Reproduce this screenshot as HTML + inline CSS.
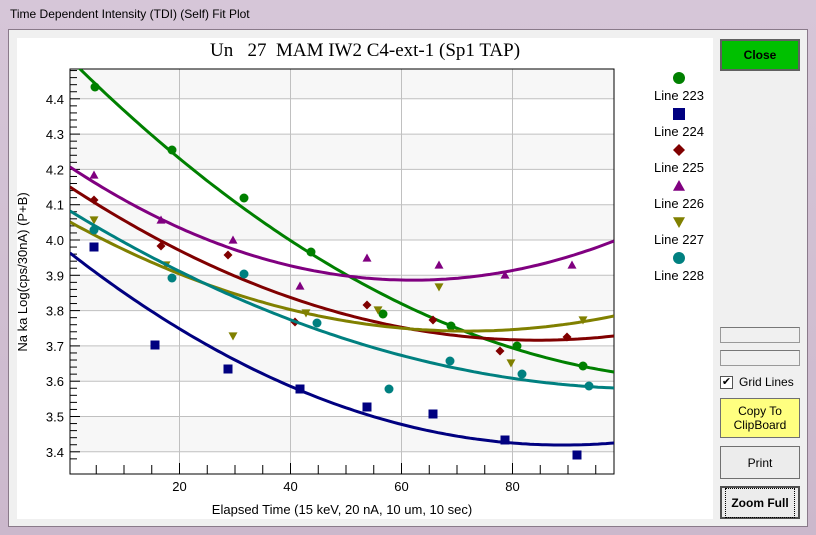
<!DOCTYPE html>
<html><head><meta charset="utf-8"><style>
body{margin:0;width:816px;height:535px;overflow:hidden;background:#d8c8d8;font-family:"Liberation Sans",sans-serif;}
.abs{position:absolute;}
.btn{position:absolute;left:720px;width:80px;box-sizing:border-box;border:1px solid #707070;background:#ececec;font-size:12px;text-align:center;display:flex;align-items:center;justify-content:center;line-height:14px;}
</style></head><body>
<div class="abs" style="left:0;top:0;width:816px;height:535px;background:linear-gradient(#d6c6d8,#cbb8cc);"></div>
<div class="abs" style="left:10px;top:7px;font-size:12px;color:#000;">Time Dependent Intensity (TDI) (Self) Fit Plot</div>
<div class="abs" style="left:8px;top:29px;width:800px;height:498px;background:#f0f0f0;border:1px solid #8a7a8a;box-sizing:border-box;"></div>
<div class="abs" style="left:17px;top:38px;width:696px;height:481px;background:#fff;"></div>
<div class="btn" style="top:39px;height:32px;background:#00c000;border:2px solid #606060;font-weight:bold;">Close</div>
<div class="abs" style="left:720px;top:327px;width:80px;height:16px;border:1px solid #999;box-sizing:border-box;border-top-color:#777;"></div>
<div class="abs" style="left:720px;top:350px;width:80px;height:16px;border:1px solid #999;box-sizing:border-box;border-top-color:#777;"></div>
<div class="abs" style="left:720px;top:376px;width:11px;height:11px;border:1px solid #555;background:#fff;font-size:11px;line-height:11px;text-align:center;">✔</div>
<div class="abs" style="left:739px;top:375px;font-size:12px;">Grid Lines</div>
<div class="btn" style="top:398px;height:40px;background:#ffff80;">Copy To<br>ClipBoard</div>
<div class="btn" style="top:446px;height:33px;">Print</div>
<div class="btn" style="top:486px;height:33px;border:2px solid #505050;font-weight:bold;"><span style="border:1px dotted #000;padding:7px 5px;">Zoom Full</span></div>
<svg class="abs" style="left:0;top:0" width="816" height="535" id="s">
<text x="365" y="56" font-family="Liberation Serif" font-size="19" text-anchor="middle" white-space="pre" style="white-space:pre">Un   27  MAM IW2 C4-ext-1 (Sp1 TAP)</text>
<text x="342" y="514" font-size="13" text-anchor="middle">Elapsed Time (15 keV, 20 nA, 10 um, 10 sec)</text>
<text transform="translate(27,272) rotate(-90)" font-size="13" text-anchor="middle">Na ka Log(cps/30nA) (P+B)</text>
</svg>
<script>
const s=document.getElementById('s');let h='';
const X0=70,X1=614,Y0=69,Y1=474;
const yv=v=>240-(v-4.0)*353;
h+=`<rect x="${X0}" y="${Y0}" width="${X1-X0}" height="${Y1-Y0}" fill="#fff"/>`;
[[4.5,4.4],[4.3,4.2],[4.1,4.0],[3.9,3.8],[3.7,3.6],[3.5,3.4]].forEach(([a,b])=>{let t=Math.max(Y0,yv(a));h+=`<rect x="${X0}" y="${t}" width="${X1-X0}" height="${yv(b)-t}" fill="#f7f7f7"/>`;});
for(let v=3.4;v<4.45;v+=0.1){let y=yv(v);h+=`<line x1="${X0}" x2="${X1}" y1="${y}" y2="${y}" stroke="#c0c0c0"/><text x="${X0-6}" y="${y+5}" font-size="13" text-anchor="end">${v.toFixed(1)}</text>`;}
for(let v=3.38;v<4.48;v+=0.02){let y=yv(v);if(y>Y0&&y<Y1)h+=`<line x1="${X0}" x2="${X0+(Math.abs(v*10-Math.round(v*10))<0.01?10:7)}" y1="${y}" y2="${y}" stroke="#000"/>`;}
const xv=t=>68.5+5.55*t;
for(let t=20;t<=80;t+=20){let x=xv(t);h+=`<line x1="${x}" x2="${x}" y1="${Y0}" y2="${Y1}" stroke="#c0c0c0"/><text x="${x}" y="${Y1+17}" font-size="13" text-anchor="middle">${t}</text>`;}
for(let t=5;t<99;t+=5){let x=xv(t);h+=`<line x1="${x}" x2="${x}" y1="${Y1}" y2="${Y1-(t%20?9:11)}" stroke="#000"/>`;}
h+=`<rect x="${X0}" y="${Y0}" width="${X1-X0}" height="${Y1-Y0}" fill="none" stroke="#000"/>`;
h+=`<clipPath id="c"><rect x="${X0}" y="${Y0}" width="${X1-X0}" height="${Y1-Y0}"/></clipPath>`;
function q(p,col){const [[a,b],[c,d],[e,f]]=p;let pts=[];for(let x=X0;x<=X1;x+=4){let y=b*(x-c)*(x-e)/((a-c)*(a-e))+d*(x-a)*(x-e)/((c-a)*(c-e))+f*(x-a)*(x-c)/((e-a)*(e-c));pts.push(x+','+y.toFixed(1));}
h+=`<polyline clip-path="url(#c)" points="${pts.join(' ')}" fill="none" stroke="${col}" stroke-width="3"/>`;}
const S={
g:['#008000','c',[[80,69],[400,303],[614,372]],[[95,87],[172,150],[244,198],[311,252],[383,314],[451,326],[517,346],[583,366]]],
n:['#000080','s',[[70,253],[400,424],[614,443]],[[94,247],[155,345],[228,369],[300,389],[367,407],[433,414],[505,440],[577,455]]],
m:['#800000','d',[[70,187],[400,327],[614,336]],[[94,200],[161,246],[228,255],[295,322],[367,305],[433,320],[500,351],[567,337]]],
p:['#800080','t',[[70,167],[400,280],[614,241]],[[94,175],[161,220],[233,240],[300,286],[367,258],[439,265],[505,275],[572,265]]],
o:['#808000','v',[[70,222],[400,328],[614,316]],[[94,220],[166,265],[233,336],[306,313],[378,310],[439,287],[511,363],[583,320]]],
t:['#008080','c',[[70,211],[400,355],[614,388]],[[94,230],[172,278],[244,274],[317,323],[389,389],[450,361],[522,374],[589,386]]]};
function mk(x,y,t,c,r){if(t=='c')return `<circle cx="${x}" cy="${y}" r="${r}" fill="${c}"/>`;
if(t=='s')return `<rect x="${x-r}" y="${y-r}" width="${2*r}" height="${2*r}" fill="${c}"/>`;
if(t=='d')return `<polygon points="${x},${y-r} ${x+r},${y} ${x},${y+r} ${x-r},${y}" fill="${c}"/>`;
if(t=='t')return `<polygon points="${x},${y-r} ${x+r},${y+r*0.8} ${x-r},${y+r*0.8}" fill="${c}"/>`;
return `<polygon points="${x},${y+r} ${x+r},${y-r*0.8} ${x-r},${y-r*0.8}" fill="${c}"/>`;}
const names=['Line 223','Line 224','Line 225','Line 226','Line 227','Line 228'];let i=0;
for(const k in S){const [c,t,cu,pts]=S[k];q(cu,c);pts.forEach(([x,y])=>h+=mk(x,y,t,c,4.5));
let ly=78+36*i;h+=mk(679,ly,t,c,6)+`<text x="679" y="${ly+22}" font-size="13" text-anchor="middle">${names[i]}</text>`;i++;}
s.insertAdjacentHTML('beforeend',h);
</script>
</body></html>
